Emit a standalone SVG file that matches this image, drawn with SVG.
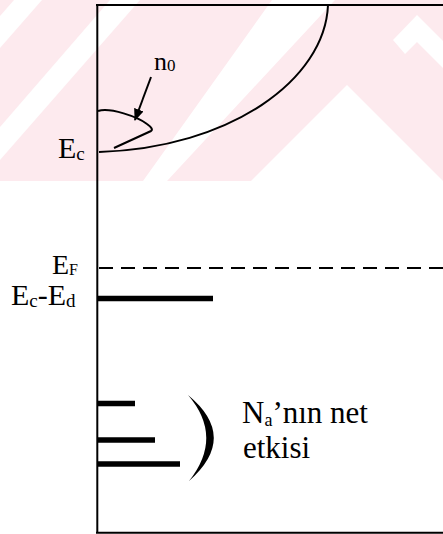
<svg xmlns="http://www.w3.org/2000/svg" width="443" height="534" viewBox="0 0 443 534">
  <style>
    .ln { stroke: #000; fill: none; stroke-width: 2; }
    .bar { stroke: #000; fill: none; stroke-width: 5.5; }
    text { font-family: 'Liberation Serif', 'Times New Roman', serif; fill: #000; }
    .wm { fill: #fdeaee; }
    .wmw { fill: #fff; }
  </style>
  <defs>
    <marker id="ah" viewBox="0 0 12 10" refX="11" refY="5" markerWidth="12" markerHeight="10" markerUnits="userSpaceOnUse" orient="auto">
      <path d="M0,0 L12,5 L0,10 Z" fill="#000"/>
    </marker>
  </defs>
  <rect width="443" height="534" fill="#fff"/>
  <g id="watermark">
    <rect class="wm" x="0" y="0" width="443" height="181"/>
    <polygon class="wmw" points="14,0 42,0 0,48 0,16"/>
    <polygon class="wmw" points="110,0 140,0 0,160 0,127"/>
    <polygon class="wmw" points="272,0 335,0 167,181 143,181"/>
    <polygon class="wmw" points="347,85 251,181 443,181"/>
    <polygon class="wmw" points="393,40 417,15 443,41 443,68 417,42 405,54"/>
  </g>
  <g id="frame">
    <line class="ln" x1="97.3" y1="4" x2="97.3" y2="533"/>
    <line class="ln" x1="96" y1="5" x2="443" y2="5"/>
    <line class="ln" x1="96" y1="532.7" x2="443" y2="532.7"/>
  </g>
  <g id="dos-curve">
    <path class="ln" d="M99,152 C230,148 325,80 328,5"/>
  </g>
  <g id="n0-curve">
    <path class="ln" d="M98,111 C110,107 138,117 147,124 Q154,129 151,131 L114,148"/>
  </g>
  <g id="label-n0">
    <text x="154" y="70" font-size="26">n<tspan font-size="17" dy="1">0</tspan></text>
  </g>
  <g id="label-Ec">
    <text x="58" y="158" font-size="30">E<tspan font-size="19" dy="2">c</tspan></text>
  </g>
  <g id="fermi-level">
    <line class="ln" x1="99" y1="268" x2="443" y2="268" stroke-dasharray="14 8"/>
  </g>
  <g id="label-EF">
    <text x="52" y="274" font-size="28">E<tspan font-size="16" dy="1">F</tspan></text>
  </g>
  <g id="donor-level">
    <line class="bar" x1="97" y1="298.5" x2="213" y2="298.5" stroke-width="6.5"/>
  </g>
  <g id="label-EcEd">
    <text x="11" y="305" font-size="30">E<tspan font-size="19" dy="2">c</tspan><tspan dy="-2">-E</tspan><tspan font-size="19" dy="2">d</tspan></text>
  </g>
  <g id="acceptor-levels">
    <line class="bar" x1="97" y1="403.5" x2="135" y2="403.5"/>
    <line class="bar" x1="97" y1="440" x2="155" y2="440"/>
    <line class="bar" x1="97" y1="464" x2="180" y2="464"/>
  </g>
  <g id="bracket">
    <path d="M188,395 Q239,437 189,481 Q224,437 188,395 Z" fill="#000"/>
  </g>
  <g id="label-Na">
    <text x="242" y="423" font-size="31">N<tspan font-size="18" dy="3">a</tspan><tspan dy="-3">’nın net</tspan></text>
    <text x="243" y="458" font-size="31">etkisi</text>
  </g>
  <g id="connectors">
    <line class="ln" x1="151" y1="77" x2="135" y2="120" marker-end="url(#ah)"/>
  </g>
</svg>
